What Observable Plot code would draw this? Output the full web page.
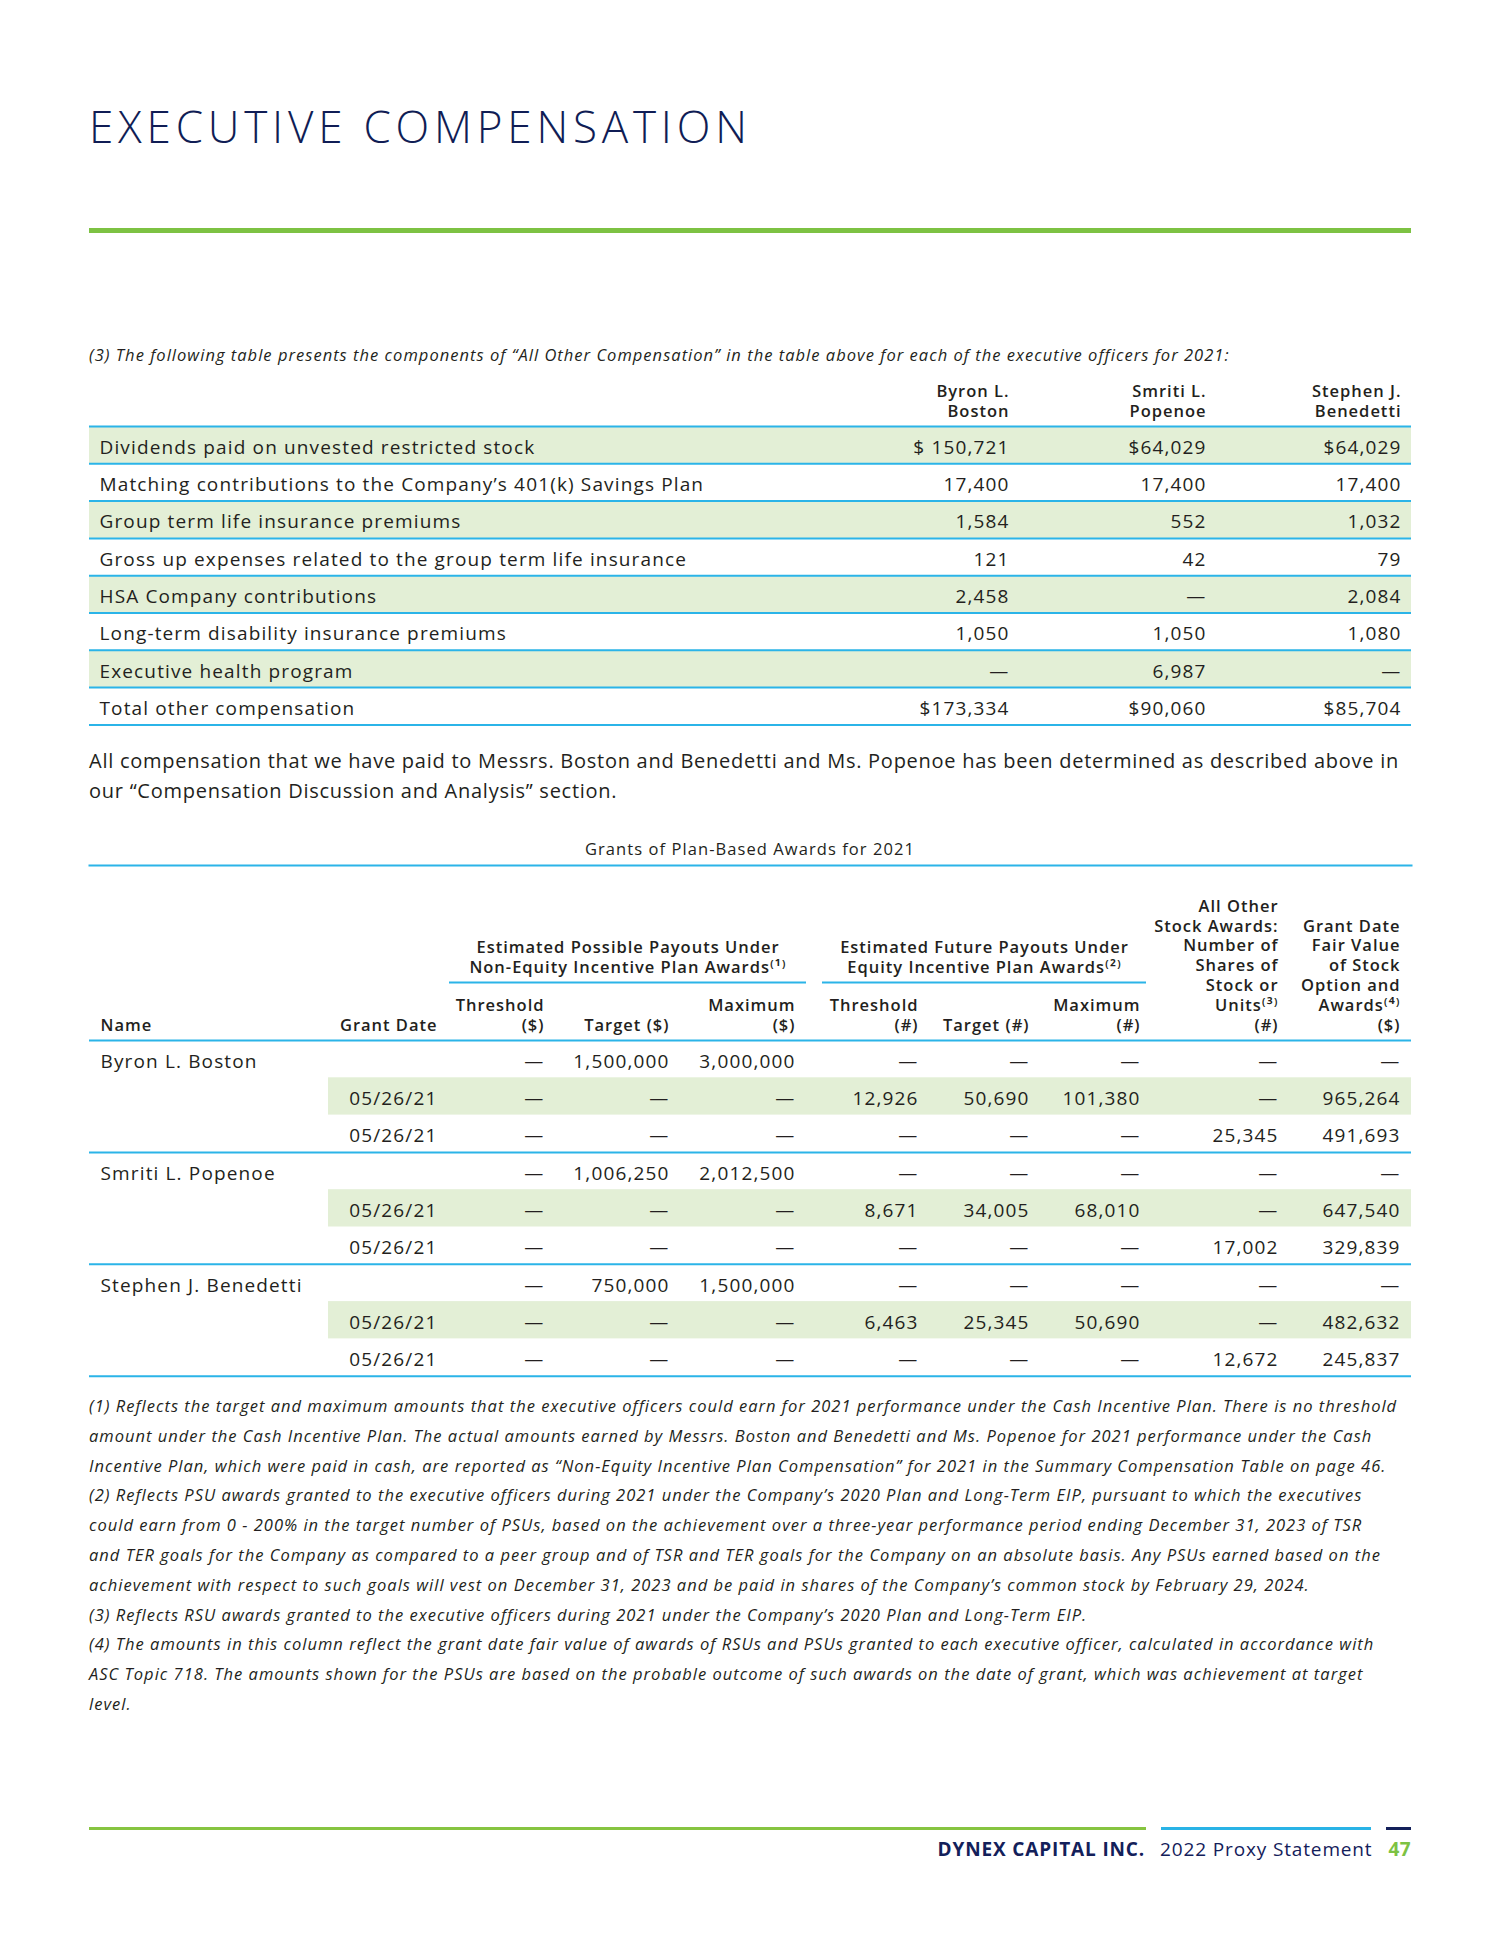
<!DOCTYPE html>
<html><head><meta charset="utf-8">
<script src="https://cdn.jsdelivr.net/npm/d3@7"></script>
<script src="https://cdn.jsdelivr.net/npm/@observablehq/plot@0.6"></script>
<style>
body{margin:0;background:#fff;font-family:"Open Sans",sans-serif;color:#231f20;}
#page{position:relative;width:1500px;height:1948px;overflow:hidden;background:#fff;}
.abs{position:absolute;white-space:nowrap;}
#title{left:89px;top:104px;font-size:44px;line-height:44px;color:#101d55;font-weight:300;letter-spacing:4.8px;}
#greenbar{left:89px;top:228px;width:1322px;height:5px;background:#7dc243;}
#intro{left:89px;top:340px;font-size:16.5px;line-height:30px;font-style:italic;letter-spacing:0.062em;}
#para{left:89px;top:746px;font-size:20px;line-height:29.5px;letter-spacing:0.037em;}
#t2title{left:89px;width:1322px;top:835px;font-size:16.5px;line-height:28px;text-align:center;letter-spacing:0.065em;}
#notes{left:89px;top:1391px;font-size:16.5px;line-height:29.8px;font-style:italic;letter-spacing:0.061em;}
.fline{position:absolute;top:1827px;height:3px;}
#footer{left:89px;width:1322px;top:1835px;font-size:19px;line-height:28px;text-align:right;letter-spacing:0.045em;}
#footer b{color:#13205a;font-weight:700;}
#footer .pg{color:#7dc243;font-weight:700;margin-left:16px;letter-spacing:0.02em;}
#footer .ps{color:#13205a;margin-left:15px;}
.plotwrap{position:absolute;left:0;}
.plotwrap svg text{letter-spacing:0.06em;}
</style></head><body>
<div id="page">
  <div id="title" class="abs">EXECUTIVE COMPENSATION</div>
  <div id="greenbar" class="abs"></div>
  <div id="intro" class="abs"></div>
  <div id="t1" class="plotwrap" style="top:370px"></div>
  <div id="para" class="abs"></div>
  <div id="t2title" class="abs"></div>
  <div id="t2" class="plotwrap" style="top:855px"></div>
  <div id="notes" class="abs"></div>
  <div class="fline" style="left:89px;width:1057px;background:#86c440"></div>
  <div class="fline" style="left:1161px;width:210px;background:#29b3e6"></div>
  <div class="fline" style="left:1386px;width:25px;background:#13205a"></div>
  <div id="footer" class="abs"></div>
</div>
<script>
// ---------- DATA ----------
const introText = "(3) The following table presents the components of “All Other Compensation” in the table above for each of the executive officers for 2021:";
const otherCompItems = [
  "Dividends paid on unvested restricted stock",
  "Matching contributions to the Company’s 401(k) Savings Plan",
  "Group term life insurance premiums",
  "Gross up expenses related to the group term life insurance",
  "HSA Company contributions",
  "Long-term disability insurance premiums",
  "Executive health program",
  "Total other compensation"
];
const executiveHeaders = ["Byron L.\nBoston", "Smriti L.\nPopenoe", "Stephen J.\nBenedetti"];
const bostonOther = ["$ 150,721", "17,400", "1,584", "121", "2,458", "1,050", "—", "$173,334"];
const popenoeOther = ["$64,029", "17,400", "552", "42", "—", "1,050", "6,987", "$90,060"];
const benedettiOther = ["$64,029", "17,400", "1,032", "79", "2,084", "1,080", "—", "$85,704"];

const paragraphLines = [
  "All compensation that we have paid to Messrs. Boston and Benedetti and Ms. Popenoe has been determined as described above in",
  "our “Compensation Discussion and Analysis” section."
];
const grantsTitle = "Grants of Plan-Based Awards for 2021";
const groupHeaders = ["Estimated Possible Payouts Under\nNon-Equity Incentive Plan Awards⁽¹⁾", "Estimated Future Payouts Under\nEquity Incentive Plan Awards⁽²⁾"];
const grantColumnHeaders = ["Name", "Grant Date", "Threshold\n($)", "Target ($)", "Maximum\n($)", "Threshold\n(#)", "Target (#)", "Maximum\n(#)",
  "All Other\nStock Awards:\nNumber of\nShares of\nStock or\nUnits⁽³⁾\n(#)", "Grant Date\nFair Value\nof Stock\nOption and\nAwards⁽⁴⁾\n($)"];
const grantNames = ["Byron L. Boston", "", "", "Smriti L. Popenoe", "", "", "Stephen J. Benedetti", "", ""];
const grantDates = ["", "05/26/21", "05/26/21", "", "05/26/21", "05/26/21", "", "05/26/21", "05/26/21"];
const nonEqThreshold = ["—", "—", "—", "—", "—", "—", "—", "—", "—"];
const nonEqTarget = ["1,500,000", "—", "—", "1,006,250", "—", "—", "750,000", "—", "—"];
const nonEqMaximum = ["3,000,000", "—", "—", "2,012,500", "—", "—", "1,500,000", "—", "—"];
const eqThreshold = ["—", "12,926", "—", "—", "8,671", "—", "—", "6,463", "—"];
const eqTarget = ["—", "50,690", "—", "—", "34,005", "—", "—", "25,345", "—"];
const eqMaximum = ["—", "101,380", "—", "—", "68,010", "—", "—", "50,690", "—"];
const otherStockUnits = ["—", "—", "25,345", "—", "—", "17,002", "—", "—", "12,672"];
const grantFairValue = ["—", "965,264", "491,693", "—", "647,540", "329,839", "—", "482,632", "245,837"];

const footnoteLines = [
  "(1) Reflects the target and maximum amounts that the executive officers could earn for 2021 performance under the Cash Incentive Plan. There is no threshold",
  "amount under the Cash Incentive Plan. The actual amounts earned by Messrs. Boston and Benedetti and Ms. Popenoe for 2021 performance under the Cash",
  "Incentive Plan, which were paid in cash, are reported as “Non-Equity Incentive Plan Compensation” for 2021 in the Summary Compensation Table on page 46.",
  "(2) Reflects PSU awards granted to the executive officers during 2021 under the Company’s 2020 Plan and Long-Term EIP, pursuant to which the executives",
  "could earn from 0 - 200% in the target number of PSUs, based on the achievement over a three-year performance period ending December 31, 2023 of TSR",
  "and TER goals for the Company as compared to a peer group and of TSR and TER goals for the Company on an absolute basis. Any PSUs earned based on the",
  "achievement with respect to such goals will vest on December 31, 2023 and be paid in shares of the Company’s common stock by February 29, 2024.",
  "(3) Reflects RSU awards granted to the executive officers during 2021 under the Company’s 2020 Plan and Long-Term EIP.",
  "(4) The amounts in this column reflect the grant date fair value of awards of RSUs and PSUs granted to each executive officer, calculated in accordance with",
  "ASC Topic 718. The amounts shown for the PSUs are based on the probable outcome of such awards on the date of grant, which was achievement at target",
  "level."
];
const footerCompany = "DYNEX CAPITAL INC.";
const footerDoc = "2022 Proxy Statement";
const footerPage = "47";

// ---------- LAYOUT / STYLE ----------
const FONT = "Open Sans";
const TEXT = "#231f20";
const BLUE = "#2bb4e8";
const GREEN_FILL = "#e3efd6";
const TL = 89, TR = 1411;
const t1Label = 99;
const t1Rights = [1009, 1206, 1401];
const t2NameX = 100;
const t2Rights = [null, 437, 544, 669, 795, 918, 1029, 1140, 1278, 1400];
const groupSpans = [[449, 806], [822, 1146]];
const ROWFS = 19, HDRFS = 16.5, ROWDY = 2.5;

// ---------- HTML TEXT ----------
const esc = s => s.replace(/&/g, "&amp;").replace(/</g, "&lt;");
document.getElementById("intro").textContent = introText;
document.getElementById("para").innerHTML = paragraphLines.map(esc).join("<br>");
document.getElementById("t2title").textContent = grantsTitle;
document.getElementById("notes").innerHTML = footnoteLines.map(esc).join("<br>");
document.getElementById("footer").innerHTML = `<b>${footerCompany}</b><span class="ps">${footerDoc}</span><span class="pg">${footerPage}</span>`;

// ---------- TABLE 1 ----------
const rows1 = otherCompItems.map((label, i) => ({i, label}));
const cols1 = [bostonOther, popenoeOther, benedettiOther];
const cells1 = cols1.flatMap((col, j) => col.map((v, i) => ({i, j, v})));
const t1 = Plot.plot({
  width: 1500, height: 360, marginLeft: TL, marginRight: 1500 - TR, marginTop: 0, marginBottom: 0,
  style: {fontFamily: FONT, color: TEXT, background: "transparent"},
  x: {type: "identity", axis: null},
  y: {domain: [0, otherCompItems.length], range: [56, 56 + 37.3 * otherCompItems.length], axis: null},
  marks: [
    Plot.rect(rows1.filter(r => r.i % 2 === 0), {x1: () => TL, x2: () => TR, y1: r => r.i, y2: r => r.i + 1, fill: GREEN_FILL}),
    Plot.ruleY(d3.range(otherCompItems.length + 1), {y: d => d, x1: () => TL, x2: () => TR, stroke: BLUE, strokeWidth: 2}),
    Plot.text(rows1, {x: () => t1Label, y: r => r.i + 0.5, dy: ROWDY, text: "label", textAnchor: "start", fontSize: ROWFS, fill: TEXT}),
    Plot.text(cells1, {x: c => t1Rights[c.j], y: c => c.i + 0.5, dy: ROWDY, text: "v", textAnchor: "end", fontSize: ROWFS, fill: TEXT}),
    Plot.text(executiveHeaders, {x: (d, j) => t1Rights[j], y: () => 0, dy: -10, text: d => d, textAnchor: "end", lineAnchor: "bottom",
      lineHeight: 20 / HDRFS, fontSize: HDRFS, fontWeight: 600, fill: TEXT})
  ]
});
document.getElementById("t1").append(t1);

// ---------- TABLE 2 ----------
const valueCols = [grantDates, nonEqThreshold, nonEqTarget, nonEqMaximum, eqThreshold, eqTarget, eqMaximum, otherStockUnits, grantFairValue];
const rows2 = grantNames.map((name, i) => ({i, name}));
const cells2 = valueCols.flatMap((col, k) => col.map((v, i) => ({i, k: k + 1, v}))).filter(c => c.v !== "");
const hdr2 = grantColumnHeaders.map((h, k) => ({k, h}));
const N2 = grantNames.length;
const hdrOpts = {y: () => 0, dy: -10, text: "h", lineAnchor: "bottom", lineHeight: 19.8 / HDRFS, fontSize: HDRFS, fontWeight: 600, fill: TEXT};
const t2 = Plot.plot({
  width: 1500, height: 530, marginLeft: TL, marginRight: 1500 - TR, marginTop: 10, marginBottom: 0,
  style: {fontFamily: FONT, color: TEXT, background: "transparent"},
  x: {type: "identity", axis: null},
  y: {domain: [0, N2], range: [185, 185 + 37.3 * N2], axis: null},
  marks: [
    Plot.frame({anchor: "top", stroke: BLUE, strokeWidth: 2}),
    Plot.rect(rows2.filter(r => r.i % 3 === 1), {x1: () => 328, x2: () => TR, y1: r => r.i, y2: r => r.i + 1, fill: GREEN_FILL}),
    Plot.ruleY(d3.range(0, N2 + 1, 3), {y: d => d, x1: () => TL, x2: () => TR, stroke: BLUE, strokeWidth: 2}),
    Plot.ruleY(groupSpans, {y: () => 0, dy: -58, x1: d => d[0], x2: d => d[1], stroke: BLUE, strokeWidth: 2}),
    Plot.text(groupHeaders, {x: (d, j) => (groupSpans[j][0] + groupSpans[j][1]) / 2, y: () => 0, dy: -68, text: d => d,
      textAnchor: "middle", lineAnchor: "bottom", lineHeight: 20 / HDRFS, fontSize: HDRFS, fontWeight: 600, fill: TEXT}),
    Plot.text(hdr2.filter(d => d.k === 0), {...hdrOpts, x: () => t2NameX, textAnchor: "start"}),
    Plot.text(hdr2.filter(d => d.k > 0), {...hdrOpts, x: d => t2Rights[d.k], textAnchor: "end"}),
    Plot.text(rows2.filter(r => r.name), {x: () => t2NameX, y: r => r.i + 0.5, dy: ROWDY, text: "name", textAnchor: "start", fontSize: ROWFS, fill: TEXT}),
    Plot.text(cells2, {x: c => t2Rights[c.k], y: c => c.i + 0.5, dy: ROWDY, text: "v", textAnchor: "end", fontSize: ROWFS, fill: TEXT})
  ]
});
document.getElementById("t2").append(t2);
</script>
</body></html>
